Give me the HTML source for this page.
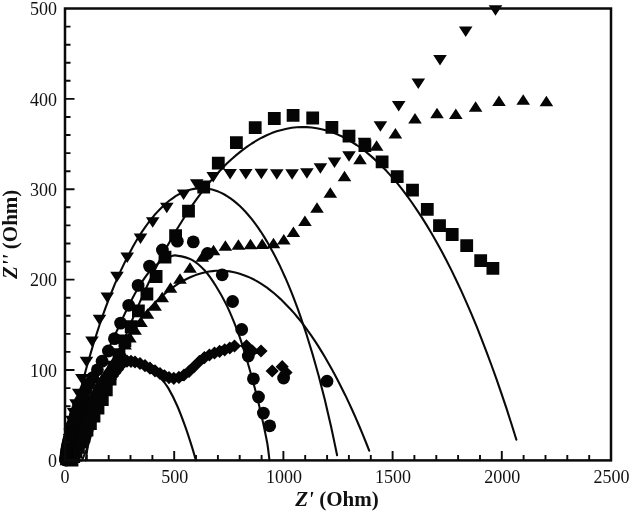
<!DOCTYPE html>
<html lang="en"><head><meta charset="utf-8"><title>Nyquist plot</title>
<style>html,body{margin:0;padding:0;background:#fff}svg{display:block;will-change:transform;opacity:.999}text{font-family:"Liberation Serif","Times New Roman",serif;fill:#111}.tl{font-size:18px}.ti{font-size:21px;font-weight:bold}</style></head><body>
<svg width="629" height="513" viewBox="0 0 629 513">
<rect width="629" height="513" fill="#fff"/>
<g fill="none" stroke="#0a0a0a" stroke-width="2.1" stroke-linecap="round" stroke-linejoin="round">
<path d="M66.0 454.5 L69.0 439.7 L72.1 425.7 L75.1 412.3 L78.2 399.6 L81.2 387.4 L84.3 375.8 L87.3 364.7 L90.4 354.1 L93.4 344.0 L96.5 334.3 L99.5 325.0 L102.5 316.2 L105.6 307.7 L108.6 299.6 L111.7 291.8 L114.7 284.4 L117.8 277.3 L120.8 270.6 L123.9 264.1 L126.9 258.0 L130.0 252.2 L133.0 246.6 L136.0 241.3 L139.1 236.3 L142.1 231.6 L145.2 227.2 L148.2 223.0 L151.3 219.0 L154.3 215.3 L157.4 211.9 L160.4 208.7 L163.5 205.7 L166.5 203.0 L169.5 200.5 L172.6 198.3 L175.6 196.2 L178.7 194.4 L181.7 192.9 L184.8 191.5 L187.8 190.4 L190.9 189.5 L193.9 188.9 L197.0 188.4 L200.0 188.2 L203.0 188.2 L206.1 188.5 L209.1 188.9 L212.2 189.6 L215.2 190.5 L218.3 191.6 L221.3 192.9 L224.4 194.5 L227.4 196.3 L230.5 198.4 L233.5 200.6 L236.5 203.1 L239.6 205.8 L242.6 208.8 L245.7 212.0 L248.7 215.5 L251.8 219.2 L254.8 223.1 L257.9 227.4 L260.9 231.8 L264.0 236.6 L267.0 241.6 L270.0 246.9 L273.1 252.4 L276.1 258.3 L279.2 264.4 L282.2 270.9 L285.3 277.7 L288.3 284.7 L291.4 292.2 L294.4 299.9 L297.5 308.1 L300.5 316.6 L303.5 325.5 L306.6 334.7 L309.6 344.5 L312.7 354.6 L315.7 365.2 L318.8 376.3 L321.8 388.0 L324.9 400.1 L327.9 412.9 L331.0 426.3 L334.0 440.4 L337.1 455.2"/>
<path d="M66.0 460.4 L69.4 452.6 L72.8 443.9 L76.2 435.5 L79.6 427.3 L83.0 419.4 L86.4 411.7 L89.8 404.2 L93.3 397.0 L96.7 390.0 L100.1 383.2 L103.5 376.6 L106.9 370.3 L110.3 364.2 L113.7 358.3 L117.1 352.6 L120.5 347.1 L123.9 341.8 L127.3 336.7 L130.7 331.8 L134.1 327.2 L137.5 322.7 L140.9 318.4 L144.4 314.3 L147.8 310.4 L151.2 306.7 L154.6 303.1 L158.0 299.8 L161.4 296.6 L164.8 293.7 L168.2 290.9 L171.6 288.3 L175.0 285.9 L178.4 283.6 L181.8 281.6 L185.2 279.7 L188.6 278.0 L192.0 276.5 L195.5 275.1 L198.9 274.0 L202.3 273.0 L205.7 272.2 L209.1 271.5 L212.5 271.1 L215.9 270.8 L219.3 270.7 L222.7 270.7 L226.1 271.0 L229.5 271.4 L232.9 272.0 L236.3 272.8 L239.7 273.7 L243.2 274.9 L246.6 276.2 L250.0 277.6 L253.4 279.3 L256.8 281.1 L260.2 283.2 L263.6 285.4 L267.0 287.7 L270.4 290.3 L273.8 293.0 L277.2 296.0 L280.6 299.1 L284.0 302.4 L287.4 305.9 L290.8 309.5 L294.3 313.4 L297.7 317.5 L301.1 321.7 L304.5 326.1 L307.9 330.8 L311.3 335.6 L314.7 340.7 L318.1 345.9 L321.5 351.4 L324.9 357.0 L328.3 362.9 L331.7 368.9 L335.1 375.2 L338.5 381.7 L341.9 388.5 L345.4 395.4 L348.8 402.6 L352.2 410.0 L355.6 417.7 L359.0 425.5 L362.4 433.7 L365.8 442.0 L369.2 450.7"/>
<path d="M72.0 460.4 L77.0 460.4 L82.0 460.4 L87.0 448.6 L92.0 432.3 L97.0 416.5 L102.0 401.3 L107.0 386.6 L111.9 372.4 L116.9 358.8 L121.9 345.6 L126.9 332.8 L131.9 320.6 L136.9 308.8 L141.9 297.4 L146.9 286.5 L151.9 275.9 L156.9 265.8 L161.9 256.1 L166.9 246.8 L171.9 237.9 L176.9 229.3 L181.9 221.2 L186.8 213.4 L191.8 205.9 L196.8 198.8 L201.8 192.1 L206.8 185.7 L211.8 179.7 L216.8 174.0 L221.8 168.7 L226.8 163.6 L231.8 159.0 L236.8 154.6 L241.8 150.6 L246.8 146.9 L251.8 143.5 L256.8 140.4 L261.7 137.7 L266.7 135.2 L271.7 133.1 L276.7 131.3 L281.7 129.9 L286.7 128.7 L291.7 127.8 L296.7 127.3 L301.7 127.0 L306.7 127.1 L311.7 127.5 L316.7 128.2 L321.7 129.2 L326.7 130.5 L331.6 132.1 L336.6 134.1 L341.6 136.3 L346.6 138.9 L351.6 141.8 L356.6 145.0 L361.6 148.5 L366.6 152.4 L371.6 156.6 L376.6 161.1 L381.6 165.9 L386.6 171.1 L391.6 176.6 L396.6 182.4 L401.6 188.6 L406.5 195.1 L411.5 202.0 L416.5 209.3 L421.5 216.9 L426.5 224.9 L431.5 233.2 L436.5 241.9 L441.5 251.0 L446.5 260.5 L451.5 270.4 L456.5 280.7 L461.5 291.4 L466.5 302.6 L471.5 314.1 L476.5 326.2 L481.4 338.6 L486.4 351.6 L491.4 365.0 L496.4 378.9 L501.4 393.3 L506.4 408.2 L511.4 423.7 L516.4 439.7"/>
<path d="M65.5 460.0 C67.1 455.3 71.6 441.7 75.0 432.0 C78.4 422.3 82.2 412.0 86.0 402.0 C89.8 392.0 94.2 381.0 98.0 372.0 C101.8 363.0 105.3 356.0 109.0 348.0 C112.7 340.0 116.5 331.5 120.0 324.0 C123.5 316.5 126.7 309.5 130.0 303.0 C133.3 296.5 136.7 290.3 140.0 285.0 C143.3 279.7 146.7 274.8 150.0 271.0 C153.3 267.2 156.4 264.4 160.0 262.0 C163.6 259.6 168.6 257.4 171.4 256.3 C174.2 255.2 173.7 255.0 177.0 255.6 C180.3 256.1 186.8 257.1 191.5 259.6 C196.2 262.1 200.9 266.3 205.0 270.8 C209.1 275.3 212.7 280.9 216.2 286.5 C219.7 292.1 223.2 298.4 226.2 304.4 C229.2 310.4 231.7 316.4 234.1 322.4 C236.5 328.4 238.6 333.7 240.8 340.3 C243.0 346.9 245.2 354.3 247.5 362.0 C249.8 369.7 252.3 378.8 254.3 386.3 C256.3 393.8 257.9 400.1 259.5 407.0 C261.1 413.9 262.9 421.8 264.2 428.0 C265.5 434.2 266.5 438.6 267.4 444.0 C268.3 449.4 269.1 457.5 269.5 460.2"/>
<path d="M85.8 460.4 C86.2 457.2 87.5 447.4 88.5 441.5 C89.5 435.6 90.6 430.6 92.0 425.0 C93.4 419.4 95.2 413.5 97.0 408.0 C98.8 402.5 100.8 396.8 103.0 392.0 C105.2 387.2 107.5 382.7 110.0 379.0 C112.5 375.3 115.0 372.3 118.0 370.0 C121.0 367.7 124.7 366.0 128.0 365.0 C131.3 364.0 134.7 363.6 138.0 364.0 C141.3 364.4 144.3 365.2 148.0 367.5 C151.7 369.8 157.0 374.6 160.4 378.0 C163.8 381.4 165.5 383.4 168.3 388.1 C171.1 392.8 174.5 399.6 177.3 406.0 C180.1 412.4 182.7 419.5 185.1 426.2 C187.5 432.9 190.0 440.7 191.8 446.4 C193.6 452.1 195.2 458.0 195.9 460.3"/>
</g>
<g fill="#050505">
<path d="M486.5 262.0h12.8v12.8h-12.8zM474.3 254.3h12.8v12.8h-12.8zM460.3 239.3h12.8v12.8h-12.8zM445.8 228.1h12.8v12.8h-12.8zM433.1 219.2h12.8v12.8h-12.8zM420.9 202.9h12.8v12.8h-12.8zM406.1 183.8h12.8v12.8h-12.8zM390.8 170.3h12.8v12.8h-12.8zM375.7 155.4h12.8v12.8h-12.8zM358.5 139.2h12.8v12.8h-12.8zM342.6 129.7h12.8v12.8h-12.8zM325.5 121.0h12.8v12.8h-12.8zM306.3 111.6h12.8v12.8h-12.8zM286.7 109.0h12.8v12.8h-12.8zM267.9 112.1h12.8v12.8h-12.8zM248.8 121.3h12.8v12.8h-12.8zM230.0 136.3h12.8v12.8h-12.8zM211.9 156.8h12.8v12.8h-12.8zM197.3 180.6h12.8v12.8h-12.8zM182.1 204.7h12.8v12.8h-12.8zM169.2 229.3h12.8v12.8h-12.8zM158.6 250.8h12.8v12.8h-12.8zM149.7 270.1h12.8v12.8h-12.8zM140.5 287.6h12.8v12.8h-12.8zM132.0 304.5h12.8v12.8h-12.8zM124.8 320.3h12.8v12.8h-12.8zM118.5 334.5h12.8v12.8h-12.8zM112.6 348.3h12.8v12.8h-12.8zM107.5 360.8h12.8v12.8h-12.8zM103.7 372.6h12.8v12.8h-12.8zM99.9 383.4h12.8v12.8h-12.8zM95.9 393.1h12.8v12.8h-12.8zM91.6 401.8h12.8v12.8h-12.8zM87.6 409.7h12.8v12.8h-12.8zM84.0 417.1h12.8v12.8h-12.8zM80.6 423.8h12.8v12.8h-12.8zM77.5 430.0h12.8v12.8h-12.8zM74.7 435.7h12.8v12.8h-12.8zM72.0 440.9h12.8v12.8h-12.8zM69.6 445.7h12.8v12.8h-12.8zM67.3 450.2h12.8v12.8h-12.8zM65.6 453.6h12.8v12.8h-12.8z"/>
<path d="M488.7 5.2h13.6l-6.8 10.5zM458.9 26.6h13.6l-6.8 10.5zM433.2 55.1h13.6l-6.8 10.5zM411.5 78.6h13.6l-6.8 10.5zM391.9 101.0h13.6l-6.8 10.5zM373.6 121.3h13.6l-6.8 10.5zM357.6 137.8h13.6l-6.8 10.5zM342.2 151.3h13.6l-6.8 10.5zM327.7 157.6h13.6l-6.8 10.5zM313.6 163.2h13.6l-6.8 10.5zM300.1 168.3h13.6l-6.8 10.5zM285.3 169.3h13.6l-6.8 10.5zM270.0 169.3h13.6l-6.8 10.5zM254.5 168.8h13.6l-6.8 10.5zM239.0 168.9h13.6l-6.8 10.5zM223.3 169.1h13.6l-6.8 10.5zM206.4 171.9h13.6l-6.8 10.5zM189.9 179.2h13.6l-6.8 10.5zM176.8 189.6h13.6l-6.8 10.5zM160.0 202.7h13.6l-6.8 10.5zM145.9 217.3h13.6l-6.8 10.5zM133.7 233.6h13.6l-6.8 10.5zM120.4 252.6h13.6l-6.8 10.5zM110.2 271.8h13.6l-6.8 10.5zM100.5 292.5h13.6l-6.8 10.5zM92.7 314.8h13.6l-6.8 10.5zM85.2 336.4h13.6l-6.8 10.5zM79.7 356.7h13.6l-6.8 10.5zM75.1 373.9h13.6l-6.8 10.5zM71.9 388.7h13.6l-6.8 10.5zM69.2 399.3h13.6l-6.8 10.5zM66.9 408.0h13.6l-6.8 10.5zM65.2 415.7h13.6l-6.8 10.5zM64.2 422.6h13.6l-6.8 10.5zM63.3 428.7h13.6l-6.8 10.5zM62.8 434.1h13.6l-6.8 10.5zM62.3 438.8h13.6l-6.8 10.5zM61.9 443.0h13.6l-6.8 10.5zM61.6 446.6h13.6l-6.8 10.5zM61.3 449.8h13.6l-6.8 10.5zM61.1 452.7h13.6l-6.8 10.5zM61.0 453.8h13.6l-6.8 10.5z"/>
<path d="M553.2 106.2h-13.6l6.8 -10.5zM530.0 104.7h-13.6l6.8 -10.5zM505.8 106.0h-13.6l6.8 -10.5zM482.4 111.7h-13.6l6.8 -10.5zM462.6 119.0h-13.6l6.8 -10.5zM443.8 118.2h-13.6l6.8 -10.5zM421.8 123.6h-13.6l6.8 -10.5zM402.2 138.6h-13.6l6.8 -10.5zM383.4 150.8h-13.6l6.8 -10.5zM366.8 164.2h-13.6l6.8 -10.5zM351.3 181.2h-13.6l6.8 -10.5zM337.1 197.7h-13.6l6.8 -10.5zM323.8 212.8h-13.6l6.8 -10.5zM311.7 226.1h-13.6l6.8 -10.5zM300.2 237.0h-13.6l6.8 -10.5zM290.6 244.6h-13.6l6.8 -10.5zM280.3 248.2h-13.6l6.8 -10.5zM269.0 249.1h-13.6l6.8 -10.5zM257.3 249.2h-13.6l6.8 -10.5zM245.2 249.7h-13.6l6.8 -10.5zM232.2 250.7h-13.6l6.8 -10.5zM220.3 255.2h-13.6l6.8 -10.5zM209.1 261.8h-13.6l6.8 -10.5zM196.8 272.7h-13.6l6.8 -10.5zM186.8 283.7h-13.6l6.8 -10.5zM177.3 292.8h-13.6l6.8 -10.5zM169.0 302.2h-13.6l6.8 -10.5zM161.9 310.7h-13.6l6.8 -10.5zM154.3 318.7h-13.6l6.8 -10.5zM147.8 327.0h-13.6l6.8 -10.5zM141.9 334.8h-13.6l6.8 -10.5zM136.7 342.4h-13.6l6.8 -10.5zM131.9 349.6h-13.6l6.8 -10.5zM127.5 356.5h-13.6l6.8 -10.5zM123.3 362.9h-13.6l6.8 -10.5zM119.3 368.8h-13.6l6.8 -10.5zM115.5 374.4h-13.6l6.8 -10.5zM111.9 379.7h-13.6l6.8 -10.5zM108.5 384.6h-13.6l6.8 -10.5zM105.7 389.4h-13.6l6.8 -10.5zM103.3 394.2h-13.6l6.8 -10.5zM101.1 398.6h-13.6l6.8 -10.5zM99.0 402.8h-13.6l6.8 -10.5zM97.1 406.7h-13.6l6.8 -10.5zM95.2 410.4h-13.6l6.8 -10.5zM93.5 413.8h-13.6l6.8 -10.5zM92.0 417.2h-13.6l6.8 -10.5zM90.7 420.3h-13.6l6.8 -10.5zM89.5 423.3h-13.6l6.8 -10.5zM88.3 426.1h-13.6l6.8 -10.5zM87.2 428.7h-13.6l6.8 -10.5zM86.2 431.2h-13.6l6.8 -10.5zM85.3 433.5h-13.6l6.8 -10.5zM84.4 435.7h-13.6l6.8 -10.5zM83.5 437.8h-13.6l6.8 -10.5zM82.7 439.7h-13.6l6.8 -10.5zM82.0 441.5h-13.6l6.8 -10.5zM81.3 443.2h-13.6l6.8 -10.5zM80.7 444.8h-13.6l6.8 -10.5zM80.1 446.4h-13.6l6.8 -10.5zM79.6 447.8h-13.6l6.8 -10.5zM79.1 449.2h-13.6l6.8 -10.5zM78.7 450.4h-13.6l6.8 -10.5zM78.2 451.6h-13.6l6.8 -10.5zM77.8 452.8h-13.6l6.8 -10.5zM77.4 453.8h-13.6l6.8 -10.5zM77.1 454.8h-13.6l6.8 -10.5zM76.7 455.7h-13.6l6.8 -10.5zM76.4 456.6h-13.6l6.8 -10.5zM76.1 457.4h-13.6l6.8 -10.5zM75.8 458.2h-13.6l6.8 -10.5zM75.6 459.0h-13.6l6.8 -10.5zM75.3 459.7h-13.6l6.8 -10.5zM75.0 460.5h-13.6l6.8 -10.5zM74.7 461.2h-13.6l6.8 -10.5zM74.5 462.0h-13.6l6.8 -10.5zM74.2 462.7h-13.6l6.8 -10.5zM73.9 463.5h-13.6l6.8 -10.5zM73.7 464.2h-13.6l6.8 -10.5zM73.4 465.0h-13.6l6.8 -10.5zM73.3 465.2h-13.6l6.8 -10.5z"/>
<path d="M282.2 360.1l6.6 6.6l-6.6 6.6l-6.6 -6.6zM286.0 365.9l6.6 6.6l-6.6 6.6l-6.6 -6.6zM272.2 364.4l6.6 6.6l-6.6 6.6l-6.6 -6.6zM261.0 344.4l6.6 6.6l-6.6 6.6l-6.6 -6.6zM252.4 344.4l6.6 6.6l-6.6 6.6l-6.6 -6.6zM246.5 339.2l6.6 6.6l-6.6 6.6l-6.6 -6.6zM234.5 339.4l6.6 6.6l-6.6 6.6l-6.6 -6.6zM229.8 341.4l6.6 6.6l-6.6 6.6l-6.6 -6.6zM224.7 343.2l6.6 6.6l-6.6 6.6l-6.6 -6.6zM219.6 344.7l6.6 6.6l-6.6 6.6l-6.6 -6.6zM214.5 346.4l6.6 6.6l-6.6 6.6l-6.6 -6.6zM209.4 348.4l6.6 6.6l-6.6 6.6l-6.6 -6.6zM204.4 351.0l6.6 6.6l-6.6 6.6l-6.6 -6.6zM199.3 354.9l6.6 6.6l-6.6 6.6l-6.6 -6.6zM194.2 360.0l6.6 6.6l-6.6 6.6l-6.6 -6.6zM189.1 364.7l6.6 6.6l-6.6 6.6l-6.6 -6.6zM184.0 368.4l6.6 6.6l-6.6 6.6l-6.6 -6.6zM178.9 370.8l6.6 6.6l-6.6 6.6l-6.6 -6.6zM173.8 371.7l6.6 6.6l-6.6 6.6l-6.6 -6.6zM169.0 371.0l6.6 6.6l-6.6 6.6l-6.6 -6.6zM164.5 369.2l6.6 6.6l-6.6 6.6l-6.6 -6.6zM160.0 366.9l6.6 6.6l-6.6 6.6l-6.6 -6.6zM155.0 364.2l6.6 6.6l-6.6 6.6l-6.6 -6.6zM150.0 361.6l6.6 6.6l-6.6 6.6l-6.6 -6.6zM145.0 359.1l6.6 6.6l-6.6 6.6l-6.6 -6.6zM140.0 356.9l6.6 6.6l-6.6 6.6l-6.6 -6.6zM135.0 355.4l6.6 6.6l-6.6 6.6l-6.6 -6.6zM131.0 354.7l6.6 6.6l-6.6 6.6l-6.6 -6.6zM127.0 354.6l6.6 6.6l-6.6 6.6l-6.6 -6.6zM123.0 355.9l6.6 6.6l-6.6 6.6l-6.6 -6.6zM120.2 359.4l6.6 6.6l-6.6 6.6l-6.6 -6.6zM117.5 362.8l6.6 6.6l-6.6 6.6l-6.6 -6.6zM114.9 366.2l6.6 6.6l-6.6 6.6l-6.6 -6.6zM112.5 369.5l6.6 6.6l-6.6 6.6l-6.6 -6.6zM110.2 372.8l6.6 6.6l-6.6 6.6l-6.6 -6.6zM108.0 375.9l6.6 6.6l-6.6 6.6l-6.6 -6.6zM105.9 379.1l6.6 6.6l-6.6 6.6l-6.6 -6.6zM103.9 382.1l6.6 6.6l-6.6 6.6l-6.6 -6.6zM101.9 385.0l6.6 6.6l-6.6 6.6l-6.6 -6.6zM100.0 387.9l6.6 6.6l-6.6 6.6l-6.6 -6.6zM98.2 390.6l6.6 6.6l-6.6 6.6l-6.6 -6.6zM96.5 393.4l6.6 6.6l-6.6 6.6l-6.6 -6.6zM95.0 396.1l6.6 6.6l-6.6 6.6l-6.6 -6.6zM93.6 398.8l6.6 6.6l-6.6 6.6l-6.6 -6.6zM92.3 401.4l6.6 6.6l-6.6 6.6l-6.6 -6.6zM91.0 403.9l6.6 6.6l-6.6 6.6l-6.6 -6.6zM89.7 406.4l6.6 6.6l-6.6 6.6l-6.6 -6.6zM88.4 408.8l6.6 6.6l-6.6 6.6l-6.6 -6.6zM87.2 411.1l6.6 6.6l-6.6 6.6l-6.6 -6.6zM86.1 413.3l6.6 6.6l-6.6 6.6l-6.6 -6.6zM85.0 415.5l6.6 6.6l-6.6 6.6l-6.6 -6.6zM84.0 417.7l6.6 6.6l-6.6 6.6l-6.6 -6.6zM83.1 419.8l6.6 6.6l-6.6 6.6l-6.6 -6.6zM82.2 421.8l6.6 6.6l-6.6 6.6l-6.6 -6.6zM81.3 423.8l6.6 6.6l-6.6 6.6l-6.6 -6.6zM80.4 425.7l6.6 6.6l-6.6 6.6l-6.6 -6.6zM79.5 427.5l6.6 6.6l-6.6 6.6l-6.6 -6.6zM78.7 429.3l6.6 6.6l-6.6 6.6l-6.6 -6.6zM77.9 431.1l6.6 6.6l-6.6 6.6l-6.6 -6.6zM77.2 432.8l6.6 6.6l-6.6 6.6l-6.6 -6.6zM76.4 434.4l6.6 6.6l-6.6 6.6l-6.6 -6.6zM75.7 436.0l6.6 6.6l-6.6 6.6l-6.6 -6.6zM75.0 437.6l6.6 6.6l-6.6 6.6l-6.6 -6.6zM74.3 439.0l6.6 6.6l-6.6 6.6l-6.6 -6.6zM73.6 440.5l6.6 6.6l-6.6 6.6l-6.6 -6.6zM72.9 441.9l6.6 6.6l-6.6 6.6l-6.6 -6.6zM72.3 443.2l6.6 6.6l-6.6 6.6l-6.6 -6.6zM71.7 444.6l6.6 6.6l-6.6 6.6l-6.6 -6.6zM71.1 445.8l6.6 6.6l-6.6 6.6l-6.6 -6.6zM70.5 447.1l6.6 6.6l-6.6 6.6l-6.6 -6.6zM69.9 448.3l6.6 6.6l-6.6 6.6l-6.6 -6.6zM69.4 449.5l6.6 6.6l-6.6 6.6l-6.6 -6.6zM68.8 450.6l6.6 6.6l-6.6 6.6l-6.6 -6.6zM68.3 451.7l6.6 6.6l-6.6 6.6l-6.6 -6.6zM67.8 452.8l6.6 6.6l-6.6 6.6l-6.6 -6.6zM67.5 453.4l6.6 6.6l-6.6 6.6l-6.6 -6.6z"/>
<circle cx="327.0" cy="381.2" r="6.4"/>
<circle cx="283.6" cy="378.0" r="6.4"/>
<circle cx="269.7" cy="425.8" r="6.4"/>
<circle cx="263.4" cy="413.1" r="6.4"/>
<circle cx="258.5" cy="397.0" r="6.4"/>
<circle cx="253.4" cy="378.8" r="6.4"/>
<circle cx="248.3" cy="356.0" r="6.4"/>
<circle cx="241.7" cy="329.5" r="6.4"/>
<circle cx="232.6" cy="301.5" r="6.4"/>
<circle cx="222.2" cy="274.8" r="6.4"/>
<circle cx="207.5" cy="253.5" r="6.4"/>
<circle cx="193.3" cy="241.9" r="6.4"/>
<circle cx="177.3" cy="241.2" r="6.4"/>
<circle cx="162.4" cy="250.0" r="6.4"/>
<circle cx="149.5" cy="266.1" r="6.4"/>
<circle cx="138.1" cy="285.4" r="6.4"/>
<circle cx="128.7" cy="305.3" r="6.4"/>
<circle cx="120.6" cy="323.1" r="6.4"/>
<circle cx="114.4" cy="338.7" r="6.4"/>
<circle cx="108.4" cy="351.0" r="6.4"/>
<circle cx="102.1" cy="361.2" r="6.4"/>
<circle cx="97.4" cy="369.8" r="6.4"/>
<circle cx="92.8" cy="377.6" r="6.4"/>
<circle cx="88.9" cy="383.8" r="6.4"/>
<circle cx="85.7" cy="390.0" r="6.4"/>
<circle cx="83.0" cy="395.7" r="6.4"/>
<circle cx="80.5" cy="401.0" r="6.4"/>
<circle cx="78.5" cy="406.1" r="6.4"/>
<circle cx="76.8" cy="410.8" r="6.4"/>
<circle cx="75.3" cy="415.3" r="6.4"/>
<circle cx="74.1" cy="419.5" r="6.4"/>
<circle cx="73.0" cy="423.4" r="6.4"/>
<circle cx="72.1" cy="427.1" r="6.4"/>
<circle cx="71.2" cy="430.5" r="6.4"/>
<circle cx="70.3" cy="433.7" r="6.4"/>
<circle cx="69.6" cy="436.7" r="6.4"/>
<circle cx="69.0" cy="439.4" r="6.4"/>
<circle cx="68.4" cy="442.0" r="6.4"/>
<circle cx="67.8" cy="444.4" r="6.4"/>
<circle cx="67.3" cy="446.6" r="6.4"/>
<circle cx="66.9" cy="448.7" r="6.4"/>
<circle cx="66.7" cy="450.6" r="6.4"/>
<circle cx="66.4" cy="452.5" r="6.4"/>
<circle cx="66.2" cy="454.1" r="6.4"/>
<circle cx="66.0" cy="455.7" r="6.4"/>
<circle cx="65.9" cy="457.2" r="6.4"/>
<circle cx="65.7" cy="458.5" r="6.4"/>
<circle cx="65.5" cy="459.8" r="6.4"/>
<circle cx="65.5" cy="460.0" r="6.4"/>
</g>
<g stroke="#0a0a0a" fill="none">
<rect x="65.0" y="8.5" width="546.0" height="451.9" stroke-width="2.5"/>
<path d="M86.8 460.4 v-5.5M108.7 460.4 v-5.5M130.5 460.4 v-5.5M152.4 460.4 v-5.5M174.2 460.4 v-9.5M196.0 460.4 v-5.5M217.9 460.4 v-5.5M239.7 460.4 v-5.5M261.6 460.4 v-5.5M283.4 460.4 v-9.5M305.2 460.4 v-5.5M327.1 460.4 v-5.5M348.9 460.4 v-5.5M370.8 460.4 v-5.5M392.6 460.4 v-9.5M414.4 460.4 v-5.5M436.3 460.4 v-5.5M458.1 460.4 v-5.5M480.0 460.4 v-5.5M501.8 460.4 v-9.5M523.6 460.4 v-5.5M545.5 460.4 v-5.5M567.3 460.4 v-5.5M589.2 460.4 v-5.5M65.0 442.3 h5.5M65.0 424.2 h5.5M65.0 406.2 h5.5M65.0 388.1 h5.5M65.0 370.0 h9.5M65.0 351.9 h5.5M65.0 333.9 h5.5M65.0 315.8 h5.5M65.0 297.7 h5.5M65.0 279.6 h9.5M65.0 261.6 h5.5M65.0 243.5 h5.5M65.0 225.4 h5.5M65.0 207.3 h5.5M65.0 189.3 h9.5M65.0 171.2 h5.5M65.0 153.1 h5.5M65.0 135.0 h5.5M65.0 117.0 h5.5M65.0 98.9 h9.5M65.0 80.8 h5.5M65.0 62.7 h5.5M65.0 44.7 h5.5M65.0 26.6 h5.5" stroke-width="1.9"/>
</g>
<text class="tl" x="65.0" y="482.8" text-anchor="middle">0</text>
<text class="tl" x="174.7" y="482.8" text-anchor="middle">500</text>
<text class="tl" x="283.9" y="482.8" text-anchor="middle">1000</text>
<text class="tl" x="393.1" y="482.8" text-anchor="middle">1500</text>
<text class="tl" x="502.3" y="482.8" text-anchor="middle">2000</text>
<text class="tl" x="611.5" y="482.8" text-anchor="middle">2500</text>
<text class="tl" x="57" y="467.2" text-anchor="end">0</text>
<text class="tl" x="57" y="376.8" text-anchor="end">100</text>
<text class="tl" x="57" y="286.4" text-anchor="end">200</text>
<text class="tl" x="57" y="196.1" text-anchor="end">300</text>
<text class="tl" x="57" y="105.7" text-anchor="end">400</text>
<text class="tl" x="57" y="15.3" text-anchor="end">500</text>
<text class="ti" x="337" y="506.2" text-anchor="middle"><tspan font-style="italic">Z'</tspan> (Ohm)</text>
<text class="ti" transform="translate(17.4 234.3) rotate(-90)" text-anchor="middle"><tspan font-style="italic">Z''</tspan> (Ohm)</text>
</svg></body></html>
